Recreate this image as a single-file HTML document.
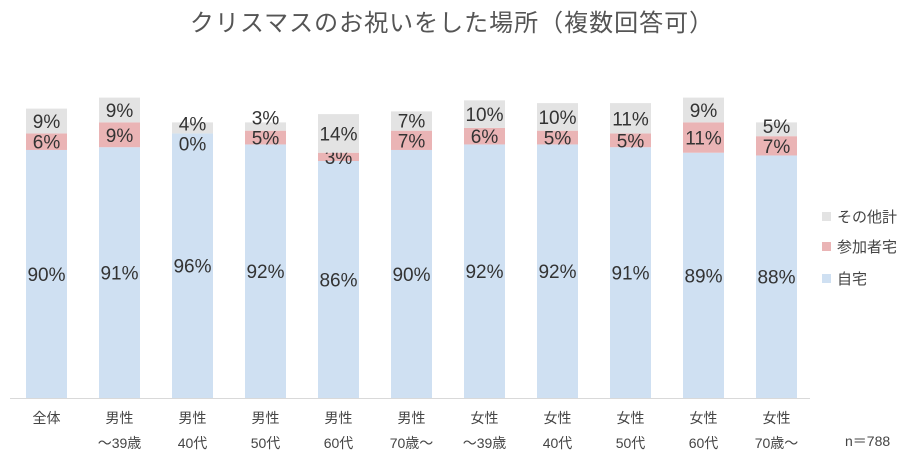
<!DOCTYPE html>
<html><head><meta charset="utf-8"><style>
body{margin:0;background:#fff;}
svg text{font-family:"Liberation Sans","Noto Sans CJK JP",sans-serif;}
</style></head><body>
<svg id="chart" width="914" height="461">
<text x="452" y="31" text-anchor="middle" font-size="24" fill="#555" letter-spacing="1">クリスマスのお祝いをした場所（複数回答可）</text>
<line x1="10" y1="398.5" x2="810" y2="398.5" stroke="#d9d9d9"/>
<g id="bars"></g>
<g id="cats"></g>
<g>
<rect x="822" y="212" width="9" height="9" fill="#e3e3e3"/>
<text x="837" y="222" font-size="15" fill="#444">その他計</text>
<rect x="822" y="242" width="9" height="9" fill="#eab4b5"/>
<text x="837" y="252" font-size="15" fill="#444">参加者宅</text>
<rect x="822" y="274" width="9" height="9" fill="#cfe0f2"/>
<text x="837" y="284" font-size="15" fill="#444">自宅</text>
</g>
<text x="845" y="446" font-size="14" fill="#444">n＝788</text>
</svg>
<script>
const categories1 = ["全体","男性","男性","男性","男性","男性","女性","女性","女性","女性","女性"];
const categories2 = ["","～39歳","40代","50代","60代","70歳～","～39歳","40代","50代","60代","70歳～"];
const ownHome = [90,91,96,92,86,90,92,92,91,89,88];
const partHome = [6,9,0,5,3,7,6,5,5,11,7];
const other = [9,9,4,3,14,7,10,10,11,9,5];
const NS="http://www.w3.org/2000/svg";
const base=398, pxPer=2.756, x0=46.5, step=73, bw=41;
const yS=v=>base-v*pxPer;
const xS=i=>x0+i*step;
const bars=document.getElementById('bars'), cats=document.getElementById('cats');
function mk(tag,attrs,parent){const e=document.createElementNS(NS,tag);for(const k in attrs)e.setAttribute(k,attrs[k]);parent.appendChild(e);return e;}
ownHome.forEach((v,i)=>{
  const cx=xS(i), x=cx-bw/2;
  const segs=[[ownHome[i],0,'#cfe0f2','own-home'],[partHome[i],ownHome[i],'#eab4b5','participant-home'],[other[i],ownHome[i]+partHome[i],'#e3e3e3','other']];
  let prevLabel=1e9;
  segs.forEach(([val,start,col,nm])=>{
    const top=yS(start+val), bot=yS(start);
    const r=mk('rect',{x:x,y:top,width:bw,height:bot-top,fill:col},bars);
    
    
    let cy=(top+bot)/2;
    if(cy>prevLabel-20)cy=prevLabel-20;
    if(nm==='participant-home'&&val===0)cy=bot+10;
    prevLabel=cy;
    const t=mk('text',{x:cx,y:cy+7,'text-anchor':'middle','font-size':19,fill:'#333'},bars);
    t.textContent=val+'%';
    
    
  });
  const c1=mk('text',{x:cx,y:423,'text-anchor':'middle','font-size':14,fill:'#444'},cats);
  c1.textContent=categories1[i];
  
  
  if(categories2[i]){
    const c2=mk('text',{x:cx,y:448,'text-anchor':'middle','font-size':14,fill:'#444'},cats);
    c2.textContent=categories2[i];
    
    
  }
});
</script>
</body></html>
